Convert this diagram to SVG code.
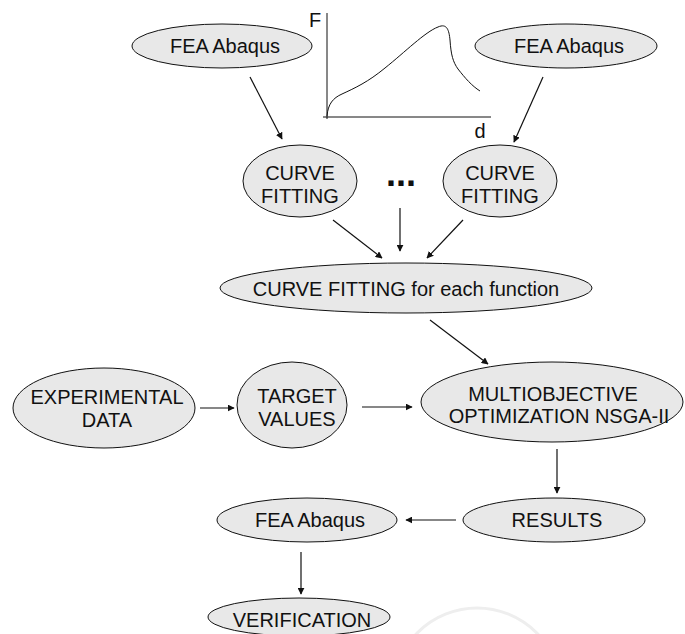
<svg xmlns="http://www.w3.org/2000/svg" width="685" height="634" viewBox="0 0 685 634">
<style>
.n ellipse{fill:#e8e8e8;stroke:#111;stroke-width:1}
text{font-family:"Liberation Sans",Arial,sans-serif;font-size:20px;fill:#111;text-anchor:middle}
.c line{stroke:#111;stroke-width:1.2;marker-end:url(#ah)}
.ax{stroke:#111;stroke-width:1;fill:none}
</style>
<defs>
<marker id="ah" viewBox="0 0 10 10" refX="9" refY="5" markerWidth="7" markerHeight="7" markerUnits="userSpaceOnUse" orient="auto">
<path d="M0,0 L10,5 L0,10 z" fill="#111"/>
</marker>
</defs>
<rect width="685" height="634" fill="#fff"/>
<circle cx="477" cy="692" r="84" fill="none" stroke="#eeeeee" stroke-width="3"/>
<g id="chart">
<line class="ax" x1="327" y1="13" x2="327" y2="119"/>
<line class="ax" x1="323" y1="117" x2="491" y2="117"/>
<path class="ax" d="M327,116 C328,104 333,98 342,94 C355,88 368,82 385,68 C405,52 425,32 438,27 C447,23 449,30 450,40 C451,55 453,62 458,69 C465,78 472,86 480,91"/>
<text x="315" y="27">F</text>
<text x="480" y="138">d</text>
</g>
<g id="fea1" class="n"><ellipse cx="222" cy="46" rx="90" ry="22"/><text x="225" y="53">FEA Abaqus</text></g>
<g id="fea2" class="n"><ellipse cx="566" cy="46" rx="91" ry="22"/><text x="569" y="53">FEA Abaqus</text></g>
<g id="cf1" class="n"><ellipse cx="300" cy="181" rx="57" ry="36"/><text x="300" y="180">CURVE</text><text x="300" y="203">FITTING</text></g>
<g id="cf2" class="n"><ellipse cx="500" cy="181" rx="57" ry="36"/><text x="500" y="180">CURVE</text><text x="500" y="203">FITTING</text></g>
<g id="dots"><text x="401" y="186" style="font-size:36px;font-weight:bold">...</text></g>
<g id="cfall" class="n"><ellipse cx="406" cy="288" rx="186" ry="25"/><text x="406" y="296">CURVE FITTING for each function</text></g>
<g id="exp" class="n"><ellipse cx="104" cy="408" rx="91" ry="40"/><text x="107" y="404">EXPERIMENTAL</text><text x="107" y="427">DATA</text></g>
<g id="target" class="n"><ellipse cx="292" cy="405" rx="55" ry="43"/><text x="297" y="403">TARGET</text><text x="297" y="426">VALUES</text></g>
<g id="moo" class="n"><ellipse cx="552" cy="402" rx="131" ry="40"/><text x="553" y="401">MULTIOBJECTIVE</text><text x="559" y="423">OPTIMIZATION NSGA-II</text></g>
<g id="results" class="n"><ellipse cx="554" cy="520" rx="91" ry="22"/><text x="557" y="527">RESULTS</text></g>
<g id="fea3" class="n"><ellipse cx="307" cy="520" rx="90" ry="22"/><text x="310" y="527">FEA Abaqus</text></g>
<g id="verif" class="n"><ellipse cx="299" cy="617" rx="91" ry="19"/><text x="302" y="627">VERIFICATION</text></g>
<g id="connectors" class="c">
<line x1="250" y1="77" x2="282" y2="139"/>
<line x1="543" y1="77" x2="514" y2="142"/>
<line x1="333" y1="220" x2="382" y2="258"/>
<line x1="400" y1="208" x2="400" y2="251"/>
<line x1="463" y1="220" x2="427" y2="258"/>
<line x1="430" y1="320" x2="488" y2="364"/>
<line x1="200" y1="408" x2="234" y2="408"/>
<line x1="362" y1="407" x2="412" y2="407"/>
<line x1="557" y1="449" x2="557" y2="493"/>
<line x1="456" y1="520" x2="406" y2="520"/>
<line x1="301" y1="552" x2="301" y2="594"/>
</g>
</svg>
